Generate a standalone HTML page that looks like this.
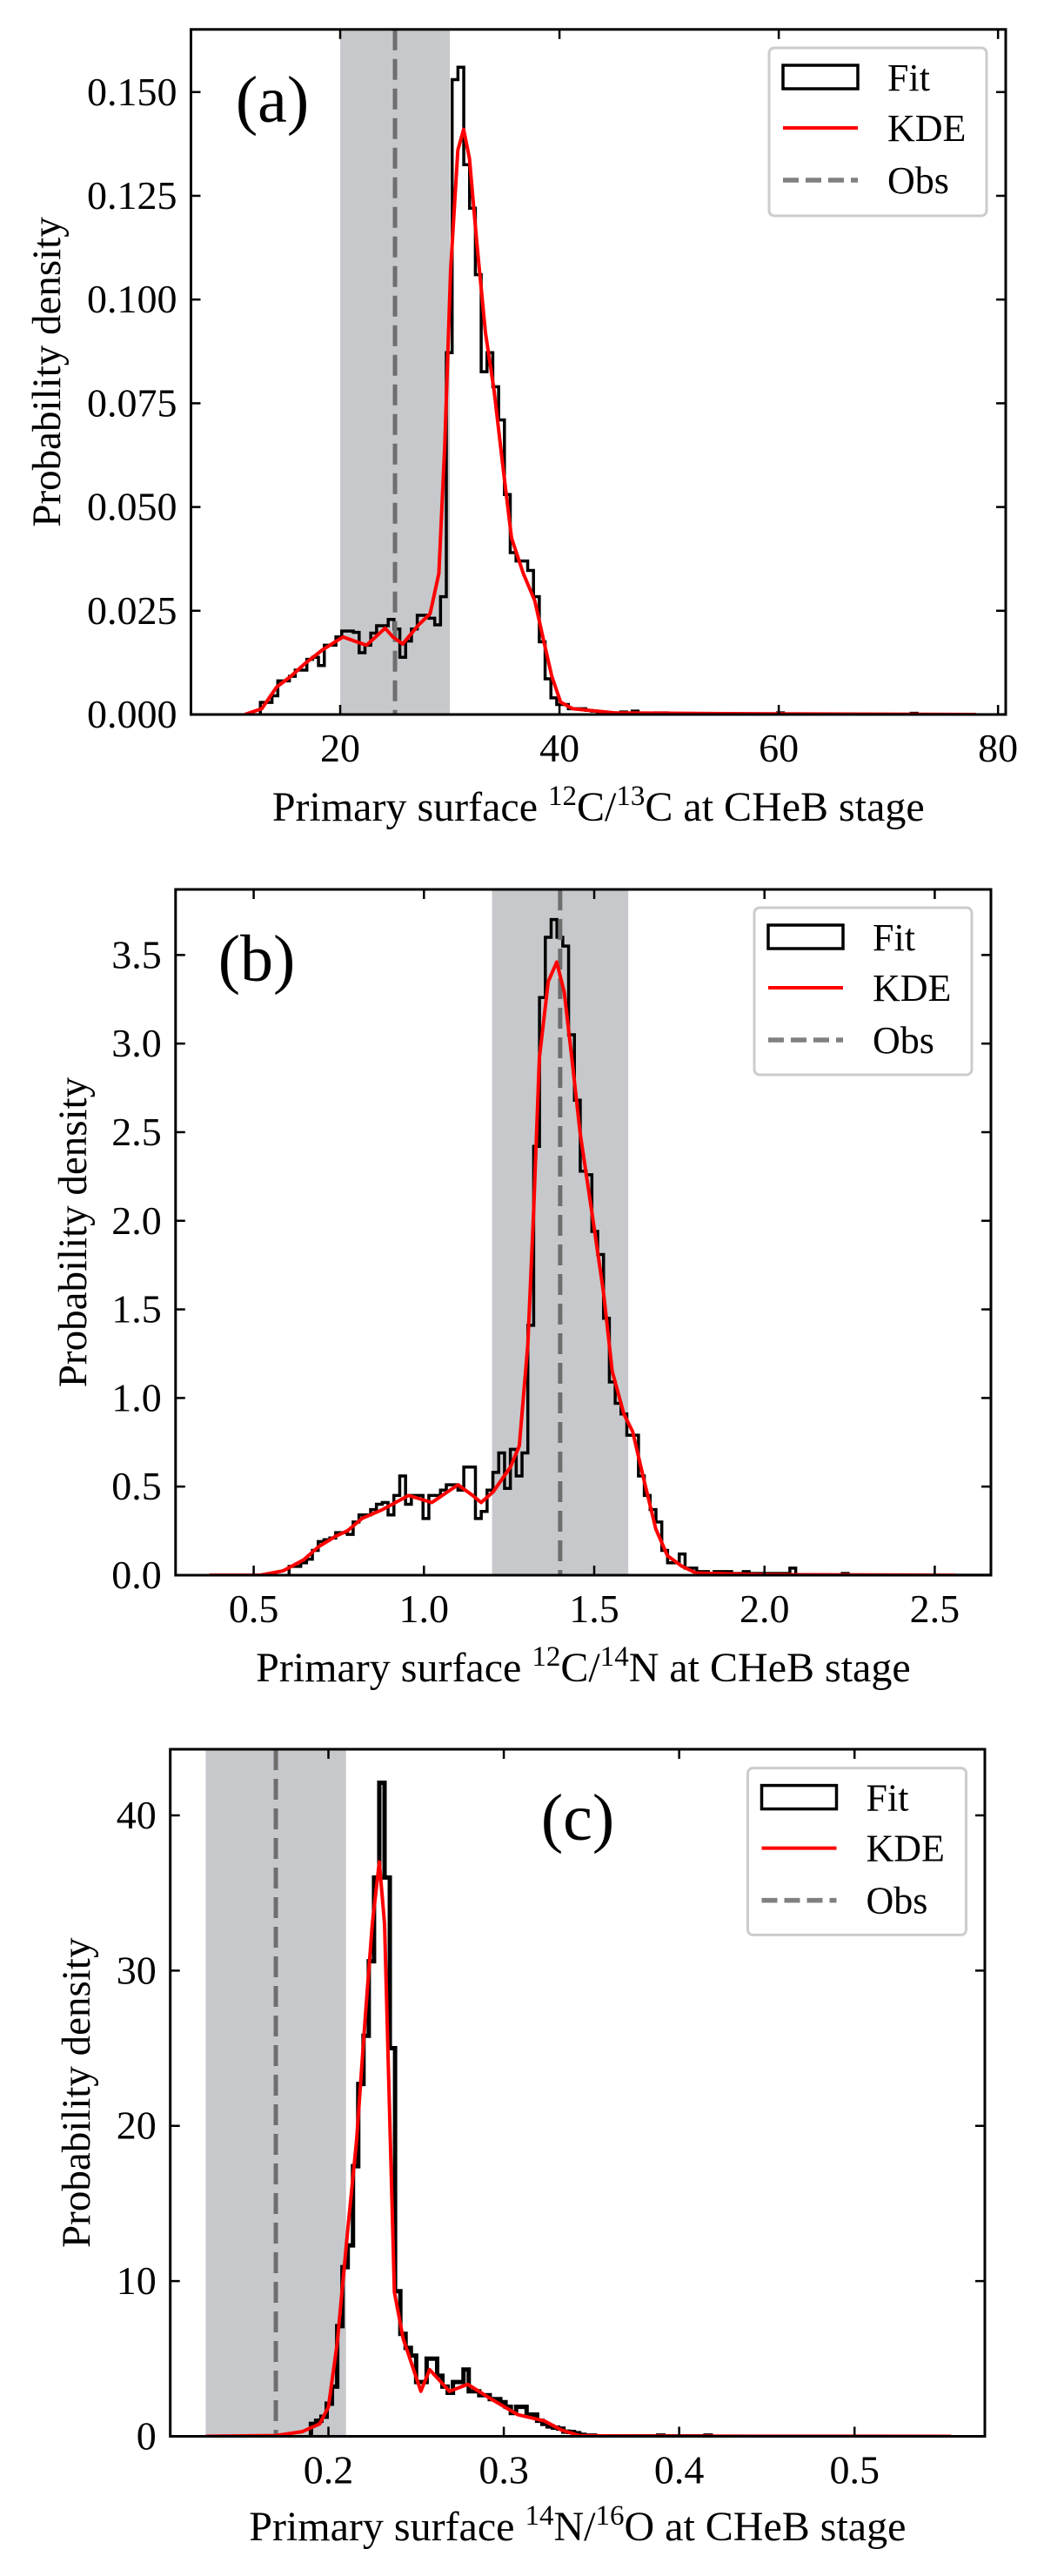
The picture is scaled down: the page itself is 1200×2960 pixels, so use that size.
<!DOCTYPE html>
<html><head><meta charset="utf-8"><style>
html,body{margin:0;padding:0;background:#fff;}
svg{display:block;font-family:"Liberation Serif","DejaVu Serif",serif;}
</style></head><body>
<svg id="fig" width="1200" height="2960" viewBox="0 0 1200 2960" xmlns="http://www.w3.org/2000/svg"></svg>
<script>
// ---------- Panel (a) data ----------
const aBinStart = 12.72;
const aBinWidth = 0.53;
const aHist = [0.0029,0.0029,0.0045,0.0081,0.0081,0.0092,0.0107,0.0107,0.0133,0.0138,0.0118,0.0167,0.0167,0.0187,0.0201,0.0201,0.0198,0.0149,0.0167,0.0196,0.0214,0.0214,0.0229,0.0206,0.0138,0.0177,0.0206,0.0239,0.0239,0.0232,0.0216,0.0284,0.0872,0.153,0.156,0.1325,0.122,0.106,0.0826,0.0872,0.079,0.071,0.053,0.039,0.037,0.037,0.0347,0.0284,0.0175,0.0086,0.004,0.0024,0.0024,0.0014,0.0014,0.0014,0.001,0.0008,0.0006,0.0004,0.0004,0.0003,0.0006,0.0003,0.0008,0.0002,0,0,0.0004,0.0004,0,0,0,0.0002,0,0,0,0,0,0,0,0,0,0,0,0,0,0,0,0.0004,0,0,0,0,0,0,0,0,0,0,0,0,0,0,0,0,0,0,0,0,0,0,0.0003];
const aKdeX = [11.3,12.85,14.2,15.5,16.8,18.4,20.26,21.3,22.4,24.1,24.8,25.7,27.15,28.2,29.0,29.54,30.07,30.73,31.26,31.79,32.45,33.25,34.04,34.83,35.63,36.7,37.75,38.5,39.3,40.1,41.2,45,55,78];
const aKdeY = [0,0.0014,0.0066,0.0092,0.0123,0.0156,0.0187,0.0177,0.0167,0.0208,0.0187,0.017,0.0216,0.0243,0.034,0.065,0.107,0.136,0.141,0.134,0.114,0.092,0.078,0.060,0.0425,0.034,0.0274,0.0185,0.0092,0.003,0.0014,0.0004,0.0002,0];
const aXTicks = [20,40,60,80];
const aXTickLabels = ["20","40","60","80"];
const aYTicks = [0,0.025,0.05,0.075,0.1,0.125,0.15];
const aYTickLabels = ["0.000","0.025","0.050","0.075","0.100","0.125","0.150"];
const aShade = [20,30];
const aObs = 25;

// ---------- Panel (b) data ----------
const bBinStart = 0.604;
const bBinWidth = 0.0171;
const bHist = [0.05,0.05,0.07,0.09,0.14,0.19,0.20,0.21,0.24,0.24,0.23,0.30,0.34,0.34,0.37,0.40,0.41,0.34,0.45,0.56,0.40,0.45,0.45,0.32,0.45,0.45,0.48,0.51,0.51,0.48,0.61,0.61,0.32,0.36,0.48,0.58,0.69,0.49,0.71,0.56,0.69,1.41,2.42,3.26,3.60,3.70,3.60,3.55,3.05,2.68,2.28,2.26,1.94,1.81,1.45,1.09,0.97,0.91,0.79,0.79,0.56,0.45,0.37,0.30,0.14,0.07,0.07,0.12,0.04,0.04,0.02,0.02,0.01,0.02,0.02,0.02,0.01,0.01,0.02,0.01,0.01,0.01,0.01,0.01,0.01,0.01,0.04,0,0,0,0,0,0,0,0,0.01,0,0,0,0,0,0,0,0,0,0,0,0,0,0,0,0,0,0,0,0,0,0,0,0,0,0,0,0,0,0,0.02];
const bKdeX = [0.37,0.519,0.587,0.647,0.69,0.741,0.775,0.818,0.878,0.955,1.023,1.1,1.143,1.168,1.203,1.254,1.28,1.305,1.322,1.339,1.365,1.39,1.412,1.433,1.459,1.493,1.527,1.553,1.587,1.613,1.647,1.681,1.715,1.758,1.8,2.0,2.56];
const bKdeY = [0,0,0.025,0.087,0.16,0.22,0.25,0.32,0.37,0.45,0.41,0.51,0.45,0.41,0.47,0.61,0.73,1.30,2.05,2.92,3.35,3.46,3.29,2.94,2.49,2.05,1.6,1.15,0.91,0.81,0.53,0.26,0.11,0.05,0.012,0.003,0];
const bXTicks = [0.5,1.0,1.5,2.0,2.5];
const bXTickLabels = ["0.5","1.0","1.5","2.0","2.5"];
const bYTicks = [0,0.5,1,1.5,2,2.5,3,3.5];
const bYTickLabels = ["0.0","0.5","1.0","1.5","2.0","2.5","3.0","3.5"];
const bShade = [1.2,1.6];
const bObs = 1.4;

// ---------- Panel (c) data ----------
const cBinStart = 0.19;
const cBinWidth = 0.003;
const cHist = [0.8,1.0,1.26,2.1,3.2,7.1,10.9,12.3,17.4,22.7,25.8,30.6,36.0,42.1,36.0,25.0,9.35,6.6,5.7,5.2,3.5,3.5,5.0,5.0,3.9,3.2,2.8,3.5,3.5,4.3,2.9,2.9,2.65,2.65,2.4,2.4,2.2,1.9,1.5,1.9,1.9,1.4,1.4,1.0,0.8,0.64,0.56,0.5,0.3,0.28,0.2,0.1,0.05,0.05,0,0,0,0,0,0,0,0,0,0,0,0,0.05,0,0,0,0,0,0,0,0,0.05];
const cKdeX = [0.13,0.17,0.185,0.195,0.2,0.205,0.211,0.216,0.221,0.225,0.229,0.232,0.2376,0.2426,0.2527,0.2577,0.269,0.2794,0.2928,0.3079,0.323,0.333,0.343,0.36,0.555];
const cKdeY = [0,0.05,0.3,0.8,1.9,6,13.3,19,27,33,37,33,9.3,6.3,2.9,4.3,2.9,3.35,2.4,1.4,1.0,0.4,0.05,0.02,0];
const cXTicks = [0.2,0.3,0.4,0.5];
const cXTickLabels = ["0.2","0.3","0.4","0.5"];
const cYTicks = [0,10,20,30,40];
const cYTickLabels = ["0","10","20","30","40"];
const cShade = [0.13,0.21];
const cObs = 0.17;

const NS = "http://www.w3.org/2000/svg";
const fig = document.getElementById('fig');
function mk(tag, attrs, parent){
  const e = document.createElementNS(NS, tag);
  for (const k in attrs) e.setAttribute(k, attrs[k]);
  (parent||fig).appendChild(e);
  return e;
}

function panel(p){
  const g = mk('g', {});
  
  
  const sx = v => p.L + (v - p.xlim[0]) / (p.xlim[1] - p.xlim[0]) * (p.R - p.L);
  const sy = v => p.B - (v - p.ylim[0]) / (p.ylim[1] - p.ylim[0]) * (p.B - p.T);
  const cid = 'clip-' + p.name;
  const cp = mk('clipPath', {id: cid}, g);
  mk('rect', {x: p.L, y: p.T, width: p.R - p.L, height: p.B - p.T}, cp);
  const plot = mk('g', {'clip-path': 'url(#' + cid + ')'}, g);

  const sh = mk('rect', {x: sx(p.shade[0]), y: p.T, width: sx(p.shade[1]) - sx(p.shade[0]), height: p.B - p.T, fill: '#c6c8cb'}, plot);
  
  

  let d = 'M' + sx(p.binStart) + ' ' + sy(0);
  for (let i = 0; i < p.hist.length; i++){
    const x0 = sx(p.binStart + i * p.binWidth), x1 = sx(p.binStart + (i + 1) * p.binWidth), y = sy(p.hist[i]);
    d += ' L' + x0 + ' ' + y + ' L' + x1 + ' ' + y;
  }
  d += ' L' + sx(p.binStart + p.hist.length * p.binWidth) + ' ' + sy(0);
  const h = mk('path', {d: d, fill: 'none', stroke: '#000', 'stroke-width': p.histW, 'stroke-linejoin': 'miter'}, plot);
  
  

  const ob = mk('line', {x1: sx(p.obs), x2: sx(p.obs), y1: p.T, y2: p.B, stroke: '#6e6e6e', 'stroke-width': 5, 'stroke-dasharray': '24 10'}, plot);
  
  

  let kd = '';
  for (let i = 0; i < p.kdeX.length; i++) kd += (i ? ' L' : 'M') + sx(p.kdeX[i]) + ' ' + sy(p.kdeY[i]);
  const k = mk('path', {d: kd, fill: 'none', stroke: '#ff0000', 'stroke-width': 4, 'stroke-linejoin': 'round'}, plot);
  
  

  const fr = mk('rect', {x: p.L, y: p.T, width: p.R - p.L, height: p.B - p.T, fill: 'none', stroke: '#000', 'stroke-width': 3}, g);
  
  

  p.xticks.forEach((v, i) => {
    const x = sx(v);
    mk('line', {x1: x, x2: x, y1: p.B, y2: p.B - 11, stroke: '#000', 'stroke-width': 2.5}, g);
    mk('line', {x1: x, x2: x, y1: p.T, y2: p.T + 11, stroke: '#000', 'stroke-width': 2.5}, g);
    const t = mk('text', {x: x, y: p.B + 54, 'font-size': 46, 'text-anchor': 'middle'}, g);
    t.textContent = p.xtl[i];
    
    
  });
  p.yticks.forEach((v, i) => {
    const y = sy(v);
    mk('line', {x1: p.L, x2: p.L + 11, y1: y, y2: y, stroke: '#000', 'stroke-width': 2.5}, g);
    mk('line', {x1: p.R, x2: p.R - 11, y1: y, y2: y, stroke: '#000', 'stroke-width': 2.5}, g);
    const t = mk('text', {x: p.L - 16, y: y + 15, 'font-size': 46, 'text-anchor': 'end'}, g);
    t.textContent = p.ytl[i];
    
    
  });

  const xl = mk('text', {x: (p.L + p.R) / 2, y: p.xlabY + 16, 'font-size': 48, 'text-anchor': 'middle'}, g);
  
  
  xl.innerHTML = p.xlab;
  const yl = mk('text', {x: 0, y: 0, 'font-size': 47, 'text-anchor': 'middle', transform: 'translate(' + (p.ylabX + 15) + ',' + ((p.T + p.B) / 2) + ') rotate(-90)'}, g);
  yl.textContent = 'Probability density';
  
  

  const pl = mk('text', {x: p.lab[0], y: p.lab[1] + 26, 'font-size': 76, 'text-anchor': 'middle'}, g);
  pl.textContent = p.labText;
  
  

  const lx = p.leg[0], ly = p.leg[1], lw = p.leg[2] - p.leg[0], lh = p.leg[3] - p.leg[1];
  const lg = mk('g', {}, g);
  
  
  mk('rect', {x: lx, y: ly, width: lw, height: lh, rx: 6, fill: 'rgba(255,255,255,0.85)', stroke: '#cccccc', 'stroke-width': 3}, lg);
  const e1 = mk('rect', {x: lx + 16, y: ly + 20, width: 86, height: 27, fill: 'none', stroke: '#000', 'stroke-width': 3.5}, lg);
  
  
  mk('line', {x1: lx + 16, x2: lx + 102, y1: ly + 92, y2: ly + 92, stroke: '#ff0000', 'stroke-width': 4}, lg);
  mk('line', {x1: lx + 16, x2: lx + 102, y1: ly + 152, y2: ly + 152, stroke: '#808080', 'stroke-width': 5.5, 'stroke-dasharray': '18 8'}, lg);
  [['Fit', 34], ['KDE', 92], ['Obs', 152]].forEach(it => {
    const t = mk('text', {x: lx + 136, y: ly + it[1] + 15, 'font-size': 44}, lg);
    t.textContent = it[0];
    
    
  });
}

panel({name: 'a', L: 219.5, R: 1156, T: 33.8, B: 821, xlim: [6.39, 80.7], ylim: [0, 0.1651],
  binStart: aBinStart, binWidth: aBinWidth, hist: aHist, kdeX: aKdeX, kdeY: aKdeY, histW: 3.5,
  xticks: aXTicks, xtl: aXTickLabels, yticks: aYTicks, ytl: aYTickLabels, shade: aShade, obs: aObs,
  leg: [884, 55, 1134, 248], lab: [313, 114], labText: '(a)', xlabY: 927, ylabX: 54,
  xlab: 'Primary surface <tspan dy="-18" font-size="33">12</tspan><tspan dy="18">C/</tspan><tspan dy="-18" font-size="33">13</tspan><tspan dy="18">C at CHeB stage</tspan>'});
panel({name: 'b', L: 201.8, R: 1139, T: 1022, B: 1810, xlim: [0.2706, 2.665], ylim: [0, 3.87],
  binStart: bBinStart, binWidth: bBinWidth, hist: bHist, kdeX: bKdeX, kdeY: bKdeY, histW: 3.5,
  xticks: bXTicks, xtl: bXTickLabels, yticks: bYTicks, ytl: bYTickLabels, shade: bShade, obs: bObs,
  leg: [867, 1043, 1117, 1235], lab: [295, 1101], labText: '(b)', xlabY: 1916, ylabX: 84,
  xlab: 'Primary surface <tspan dy="-18" font-size="33">12</tspan><tspan dy="18">C/</tspan><tspan dy="-18" font-size="33">14</tspan><tspan dy="18">N at CHeB stage</tspan>'});
panel({name: 'c', L: 195.7, R: 1132, T: 2010, B: 2799.5, xlim: [0.1098, 0.5743], ylim: [0, 44.26],
  binStart: cBinStart, binWidth: cBinWidth, hist: cHist, kdeX: cKdeX, kdeY: cKdeY, histW: 5,
  xticks: cXTicks, xtl: cXTickLabels, yticks: cYTicks, ytl: cYTickLabels, shade: cShade, obs: cObs,
  leg: [859.5, 2031.6, 1110.5, 2223.4], lab: [664, 2088], labText: '(c)', xlabY: 2903, ylabX: 88,
  xlab: 'Primary surface <tspan dy="-18" font-size="33">14</tspan><tspan dy="18">N/</tspan><tspan dy="-18" font-size="33">16</tspan><tspan dy="18">O at CHeB stage</tspan>'});
</script>
</body></html>
